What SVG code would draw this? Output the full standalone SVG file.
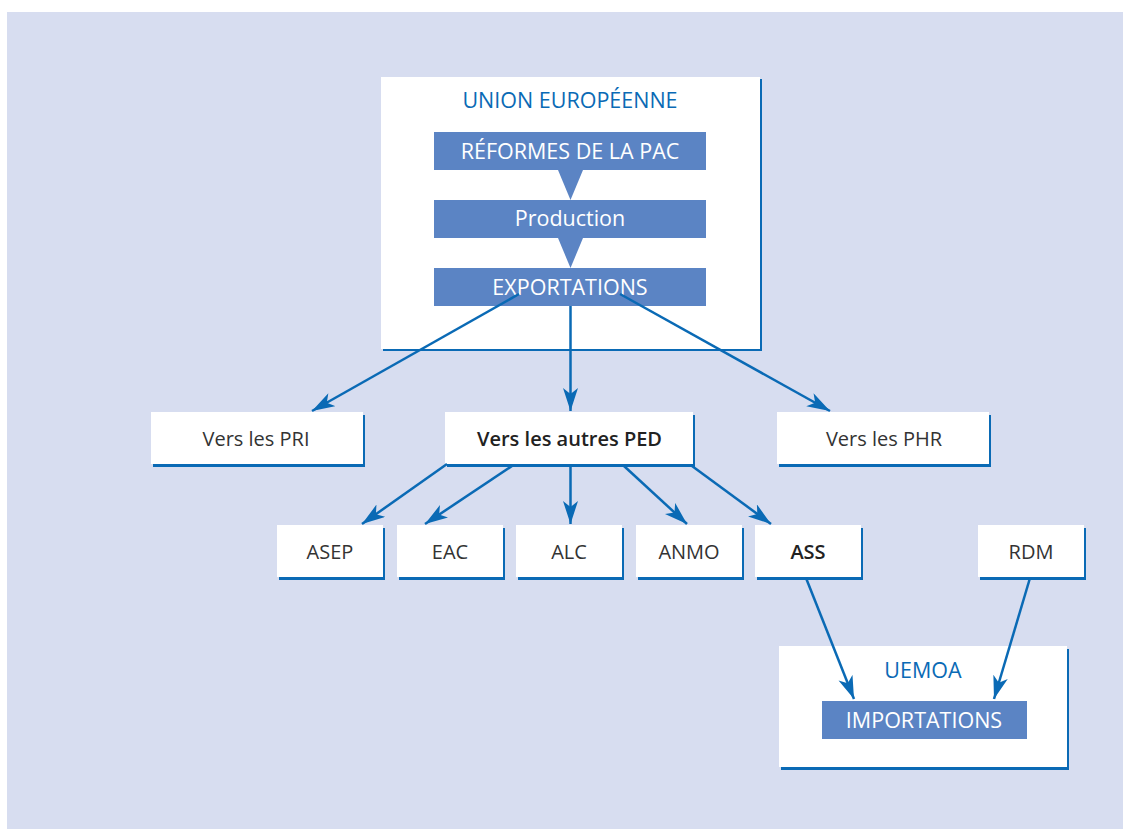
<svg xmlns="http://www.w3.org/2000/svg" width="1123" height="829" viewBox="0 0 1123 829">
<defs>
<style>
.sh{fill:#0a6ab5}
.wb{fill:#ffffff}
.bb{fill:#5b84c4}
.t{font-family:"Open Sans","Noto Sans","Liberation Sans",sans-serif;font-size:20px;text-anchor:middle}
.lg{font-size:21.5px}
.dk{fill:#333333}
.wt{fill:#ffffff}
.bl{fill:#0a6ab5}
.bd{font-weight:600;fill:#222222}
.c{stroke:#0a6ab5;stroke-width:2.5;fill:none;marker-end:url(#ah)}
</style>
<marker id="ah" markerUnits="userSpaceOnUse" markerWidth="26" markerHeight="18" refX="23" refY="7.5" orient="auto">
<path d="M0,0 L23,7.5 L0,15 L6,7.5 z" fill="#0a6ab5"/>
</marker>
</defs>
<rect x="0" y="0" width="1123" height="829" fill="#ffffff"/>
<rect x="7" y="12" width="1116" height="817" fill="#d7ddf0"/>

<g id="ue">
<rect class="sh" x="383" y="79" width="379" height="272"/>
<rect class="wb" x="381" y="77" width="379" height="272"/>
<text class="t lg bl" x="570" y="108">UNION EUROPÉENNE</text>
</g>
<g id="reformes">
<rect class="bb" x="434" y="132" width="272" height="38"/>
<text class="t lg wt" x="570" y="159">RÉFORMES DE LA PAC</text>
</g>
<polygon id="tri1" class="bb" points="558,170 583,170 570.5,200"/>
<g id="production">
<rect class="bb" x="434" y="200" width="272" height="38"/>
<text class="t lg wt" x="570" y="226">Production</text>
</g>
<polygon id="tri2" class="bb" points="558,238 583,238 570.5,268"/>
<g id="exportations">
<rect class="bb" x="434" y="268" width="272" height="38"/>
<text class="t lg wt" x="570" y="295">EXPORTATIONS</text>
</g>

<g id="pri">
<rect class="sh" x="153" y="415" width="212" height="52"/>
<rect class="wb" x="151" y="412" width="212" height="52"/>
<text class="t dk" x="256" y="446">Vers les PRI</text>
</g>
<g id="ped">
<rect class="sh" x="447" y="415" width="248" height="52"/>
<rect class="wb" x="445" y="412" width="248" height="52"/>
<text class="t bd" x="569.5" y="446">Vers les autres PED</text>
</g>
<g id="phr">
<rect class="sh" x="779" y="415" width="212" height="52"/>
<rect class="wb" x="777" y="412" width="212" height="52"/>
<text class="t dk" x="884" y="446">Vers les PHR</text>
</g>

<g id="asep">
<rect class="sh" x="279" y="528" width="106" height="52"/>
<rect class="wb" x="277" y="525" width="106" height="52"/>
<text class="t dk" x="330" y="559">ASEP</text>
</g>
<g id="eac">
<rect class="sh" x="399" y="528" width="106" height="52"/>
<rect class="wb" x="397" y="525" width="106" height="52"/>
<text class="t dk" x="450" y="559">EAC</text>
</g>
<g id="alc">
<rect class="sh" x="518" y="528" width="106" height="52"/>
<rect class="wb" x="516" y="525" width="106" height="52"/>
<text class="t dk" x="569" y="559">ALC</text>
</g>
<g id="anmo">
<rect class="sh" x="638" y="528" width="106" height="52"/>
<rect class="wb" x="636" y="525" width="106" height="52"/>
<text class="t dk" x="689" y="559">ANMO</text>
</g>
<g id="ass">
<rect class="sh" x="757" y="528" width="106" height="52"/>
<rect class="wb" x="755" y="525" width="106" height="52"/>
<text class="t bd" x="808" y="559">ASS</text>
</g>
<g id="rdm">
<rect class="sh" x="980" y="528" width="106" height="52"/>
<rect class="wb" x="978" y="525" width="106" height="52"/>
<text class="t dk" x="1031" y="559">RDM</text>
</g>

<g id="uemoa">
<rect class="sh" x="781" y="649" width="288" height="121"/>
<rect class="wb" x="779" y="646" width="288" height="121"/>
<text class="t lg bl" x="923" y="678">UEMOA</text>
</g>
<g id="importations">
<rect class="bb" x="822" y="701" width="205" height="38"/>
<text class="t lg wt" x="924" y="728">IMPORTATIONS</text>
</g>

<g id="connectors">
<line class="c" x1="519" y1="294" x2="312" y2="411"/>
<line class="c" x1="570.5" y1="306" x2="570.5" y2="411"/>
<line class="c" x1="620" y1="294" x2="830" y2="411"/>
<line class="c" x1="447" y1="464" x2="362" y2="524"/>
<line class="c" x1="512" y1="466" x2="425" y2="524"/>
<line class="c" x1="570.5" y1="466" x2="570.5" y2="524"/>
<line class="c" x1="624" y1="466" x2="687" y2="524"/>
<line class="c" x1="692" y1="466" x2="771" y2="524"/>
<line class="c" x1="806" y1="578" x2="854" y2="699"/>
<line class="c" x1="1030" y1="578" x2="994" y2="699"/>
</g>
</svg>
